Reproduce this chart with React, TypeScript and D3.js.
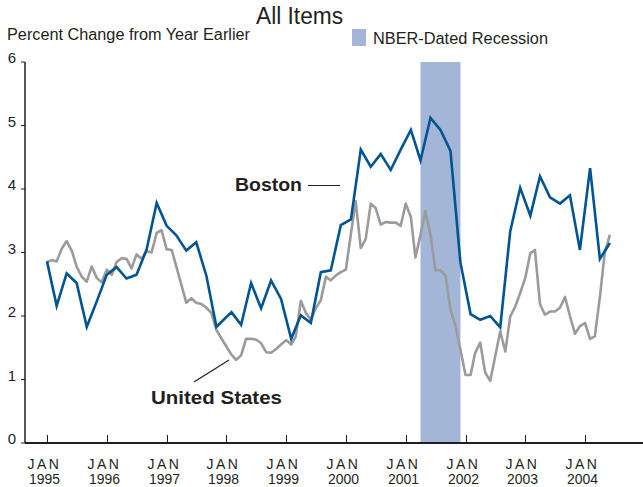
import * as d3 from 'd3';

// US CPI-U, percent change from year earlier, monthly from Jan 1995
const usValues = [
  2.85, 2.88, 2.86, 3.06, 3.18, 3.03, 2.78, 2.62, 2.54, 2.78, 2.6, 2.53, // 1995
  2.73, 2.65, 2.85, 2.91, 2.9, 2.75, 2.97, 2.9, 3.02, 3.0, 3.31, 3.35, // 1996
  3.05, 3.04, 2.78, 2.49, 2.21, 2.28, 2.21, 2.19, 2.13, 2.05, 1.78, 1.65, // 1997
  1.52, 1.39, 1.31, 1.38, 1.64, 1.64, 1.63, 1.57, 1.43, 1.42, 1.48, 1.55, // 1998
  1.62, 1.55, 1.68, 2.24, 2.05, 1.94, 2.12, 2.25, 2.62, 2.56, 2.64, 2.69, // 1999
  2.73, 3.3, 3.81, 3.07, 3.21, 3.77, 3.7, 3.44, 3.48, 3.47, 3.47, 3.42, // 2000
  3.77, 3.56, 2.92, 3.28, 3.65, 3.28, 2.72, 2.72, 2.64, 2.1, 1.84, 1.47, // 2001
  1.07, 1.07, 1.42, 1.58, 1.11, 0.98, 1.36, 1.76, 1.44, 1.99, 2.15, 2.36, // 2002
  2.6, 2.99, 3.04, 2.19, 2.02, 2.07, 2.07, 2.13, 2.3, 2.0, 1.72, 1.84, // 2003
  1.89, 1.64, 1.68, 2.3, 3.0, 3.28, // 2004
];

// Boston CPI is bimonthly: odd months through 1997, even months from 1998
const bostonOdd = [
  2.86, 2.16, 2.67, 2.52, 1.83, 2.23, // 1995
  2.65, 2.77, 2.59, 2.65, 3.05, 3.78, // 1996
  3.42, 3.27, 3.03, 3.16, 2.63, 1.83, // 1997
];
const bostonEven = [
  2.06, 1.86, 2.52, 2.12, 2.56, 2.27, // 1998
  1.64, 2.01, 1.89, 2.69, 2.72, 3.43, // 1999
  3.52, 4.62, 4.35, 4.55, 4.3, 4.62, // 2000
  4.93, 4.45, 5.12, 4.93, 4.6, 2.84, // 2001
  2.03, 1.94, 2.0, 1.82, 3.33, 4.02, // 2002
  3.58, 4.2, 3.87, 3.77, 3.9, 3.04, // 2003
  4.33, 2.9, 3.15, // 2004
];

const yearTicks = [1995, 1996, 1997, 1998, 1999, 2000, 2001, 2002, 2003, 2004];
const valueTicks = [0, 1, 2, 3, 4, 5, 6];
const recession = [new Date(2001, 3, 1), new Date(2001, 11, 1)];

type Pt = { date: Date; value: number };

const usSeries: Pt[] = usValues.map((v, i) => ({ date: new Date(1995, i, 1), value: v }));
const bostonSeries: Pt[] = [
  ...bostonOdd.map((v, i) => ({ date: new Date(1995, i * 2, 1), value: v })),
  ...bostonEven.map((v, i) => ({ date: new Date(1998, 1 + i * 2, 1), value: v })),
];

const font = '"Liberation Sans", Arial, sans-serif';
const ink = '#231f20';

export default function App() {
  const width = 643;
  const height = 487;

  const x = d3.scaleTime()
    .domain([new Date(1995, 0, 1), new Date(2004, 0, 1)])
    .range([47, 585]);
  const y = d3.scaleLinear().domain([0, 6]).range([443, 62]);

  const line = d3.line<Pt>()
    .x(d => x(d.date))
    .y(d => y(d.value));

  const axisLeft = 25;
  const axisRight = 643;

  return (
    <svg width={width} height={height}
      style={{ position: 'absolute', left: 0, top: 0, background: '#fff' }}
      fontFamily={font}>
      {/* recession band */}
      <rect x={x(recession[0])} y={y(6)}
        width={x(recession[1]) - x(recession[0])} height={y(0) - y(6)}
        fill="#a4b6d8" />

      {/* titles */}
      <text x={256} y={24} fontSize={23} fill={ink} textLength={87} lengthAdjust="spacingAndGlyphs">All Items</text>
      <text x={7} y={40} fontSize={16} fill={ink} textLength={243} lengthAdjust="spacingAndGlyphs">Percent Change from Year Earlier</text>
      <rect x={352} y={29} width={14} height={17} fill="#a4b6d8" />
      <text x={373} y={44} fontSize={16} fill={ink} textLength={175} lengthAdjust="spacingAndGlyphs">NBER-Dated Recession</text>

      {/* y axis */}
      <line x1={axisLeft} x2={axisLeft} y1={y(6)} y2={y(0)} stroke={ink} strokeWidth={1.5} />
      {valueTicks.map(t => (
        <g key={t}>
          <line x1={axisLeft - 4} x2={axisLeft} y1={y(t)} y2={y(t)} stroke={ink} strokeWidth={1} />
          <text x={16} y={y(t) + 1} fontSize={15} textAnchor="end" fill={ink}>{t}</text>
        </g>
      ))}

      {/* x axis */}
      <line x1={axisLeft} x2={axisRight} y1={y(0)} y2={y(0)} stroke={ink} strokeWidth={2} />
      {yearTicks.map(yr => {
        const px = Math.round(x(new Date(yr, 0, 1))) + 0.5;
        return (
          <g key={yr}>
            <line x1={px} x2={px} y1={y(0)} y2={y(0) - 8} stroke={ink} strokeWidth={1} />
            <text x={px - 3} y={469} fontSize={14} textAnchor="middle" fill={ink} letterSpacing={2.5}>JAN</text>
            <text x={px - 3} y={484} fontSize={14} textAnchor="middle" fill={ink}
              textLength={31} lengthAdjust="spacingAndGlyphs">{yr}</text>
          </g>
        );
      })}

      {/* series */}
      <path d={line(usSeries) ?? ''} fill="none" stroke="#9b9b9b" strokeWidth={2.6} strokeLinejoin="round" />
      <path d={line(bostonSeries) ?? ''} fill="none" stroke="#005494" strokeWidth={2.6} strokeLinejoin="miter" />

      {/* labels */}
      <text x={235} y={191} fontSize={18} fontWeight="bold" fill={ink}
        textLength={67} lengthAdjust="spacingAndGlyphs">Boston</text>
      <line x1={308} x2={340} y1={185.5} y2={185.5} stroke={ink} strokeWidth={1} />
      <text x={151} y={404} fontSize={18} fontWeight="bold" fill={ink}
        textLength={131} lengthAdjust="spacingAndGlyphs">United States</text>
      <line x1={194} y1={382} x2={229} y2={360} stroke={ink} strokeWidth={1.2} />
    </svg>
  );
}
